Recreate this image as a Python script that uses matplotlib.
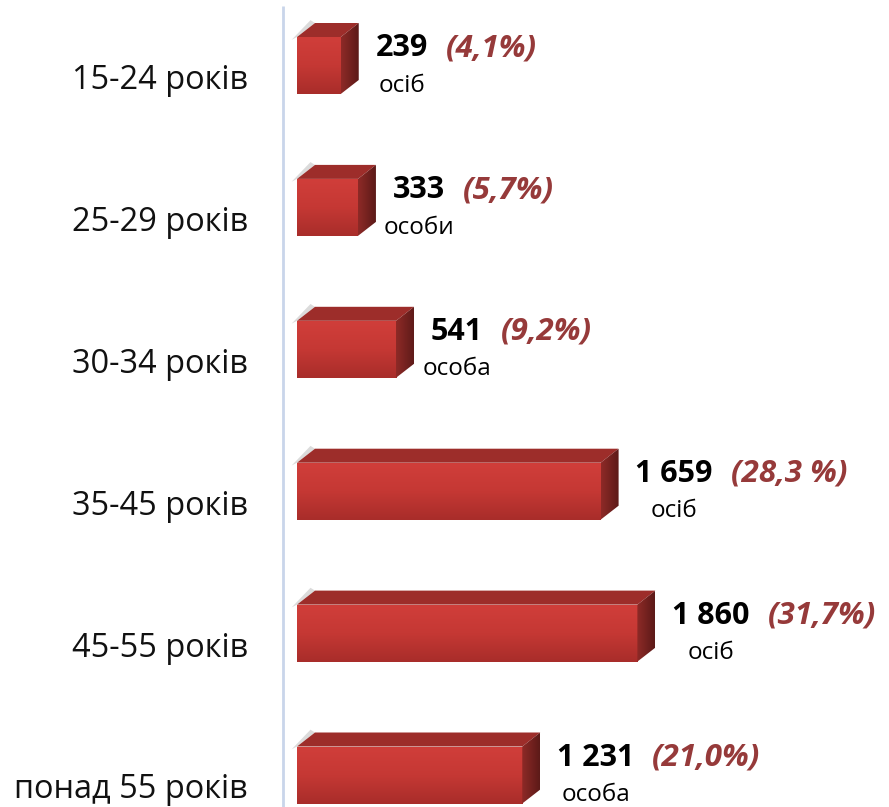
import matplotlib
matplotlib.use("Agg")
import matplotlib.pyplot as plt
import numpy as np
from matplotlib.patches import Polygon
from matplotlib.colors import LinearSegmentedColormap

categories = ["15-24 років", "25-29 років", "30-34 років", "35-45 років", "45-55 років", "понад 55 років"]
values = [239, 333, 541, 1659, 1860, 1231]
value_labels = ["239", "333", "541", "1 659", "1 860", "1 231"]
unit_labels = ["осіб", "особи", "особа", "осіб", "осіб", "особа"]
pct_labels = ["(4,1%)", "(5,7%)", "(9,2%)", "(28,3 %)", "(31,7%)", "(21,0%)"]

FONT = ["Open Sans", "DejaVu Sans"]
plt.rcParams["font.family"] = FONT

W, H, DPI = 889, 807, 100
fig = plt.figure(figsize=(W / DPI, H / DPI), dpi=DPI)
ax_left_px = 282
ax = fig.add_axes([ax_left_px / W, 0, (W - ax_left_px) / W, 1])
ax.set_axis_off()

px_per_unit = 0.183
x0 = -15 / px_per_unit
ax.set_xlim(x0, x0 + (W - ax_left_px) / px_per_unit)
step = 141.9
ax.set_ylim((H - 65.5) / step, -65.5 / step)

bar_h = 57 / step
dx = 18 / px_per_unit
dy = 14 / step

ypos = np.arange(len(values))

# axis wall line
ax.plot([x0 + 0.5 / px_per_unit] * 2, [ypos[0] - 0.42, ax.get_ylim()[0]], color="#c9d5ea",
        lw=2, solid_capstyle="butt", clip_on=False)

front_grad = np.linspace(0, 1, 100).reshape(-1, 1)
cm_front = LinearSegmentedColormap.from_list("f", ["#d03e3a", "#c53834", "#a82d2a"])
cm_side = LinearSegmentedColormap.from_list("s", ["#8e2a27", "#5c1a18"])

for i, (v, y) in enumerate(zip(values, ypos)):
    bars = ax.barh(y, v, height=bar_h, color="none", edgecolor="none")
    rect = bars[0]
    top = y - bar_h / 2
    bot = y + bar_h / 2
    im = ax.imshow(front_grad, cmap=cm_front, aspect="auto",
                   extent=(0, v, bot, top), zorder=2, interpolation="bilinear")
    im.set_clip_path(rect)
    # top face
    top_face = Polygon([(0, top), (v, top), (v + dx, top - dy), (dx, top - dy)],
                       closed=True, facecolor="#9d2d2a", edgecolor="none", zorder=2)
    ax.add_patch(top_face)
    # faint shadow at back-left edge
    shadow = Polygon([(-0.3 * dx, top + 0.02), (0, top), (dx, top - dy), (0.75 * dx, top - dy - 0.02)],
                     closed=True, facecolor="#9a9a9a", edgecolor="none", alpha=0.35, zorder=1)
    ax.add_patch(shadow)
    # right side face
    side = Polygon([(v, top), (v + dx, top - dy), (v + dx, bot - dy), (v, bot)],
                   closed=True, facecolor="none", edgecolor="none", zorder=2)
    ax.add_patch(side)
    im2 = ax.imshow(np.linspace(0, 1, 50).reshape(1, -1), cmap=cm_side, aspect="auto",
                    extent=(v, v + dx, bot, top - dy), zorder=2, interpolation="bilinear")
    im2.set_clip_path(side)

    # category label
    fig.text(248 / W, 1 - (65.5 + 15 + step * i) / H, categories[i], ha="right", va="center",
             fontsize=23.4, color="#111111")

    num = ax.annotate(value_labels[i], xy=(v, top), xytext=(25, -8), textcoords="offset points",
                      ha="left", va="center", fontsize=22, fontweight="bold", color="black")
    ax.annotate(pct_labels[i], xy=(1, 0.5), xycoords=num, xytext=(13, 0),
                textcoords="offset points", ha="left", va="center", fontsize=22.5,
                fontweight="bold", fontstyle="italic", color="#963a3a")
    ax.annotate(unit_labels[i], xy=(0.5, 0.5), xycoords=num, xytext=(0, -27),
                textcoords="offset points", ha="center", va="center", fontsize=17.5, color="black")

fig.savefig("out.png", dpi=DPI)
